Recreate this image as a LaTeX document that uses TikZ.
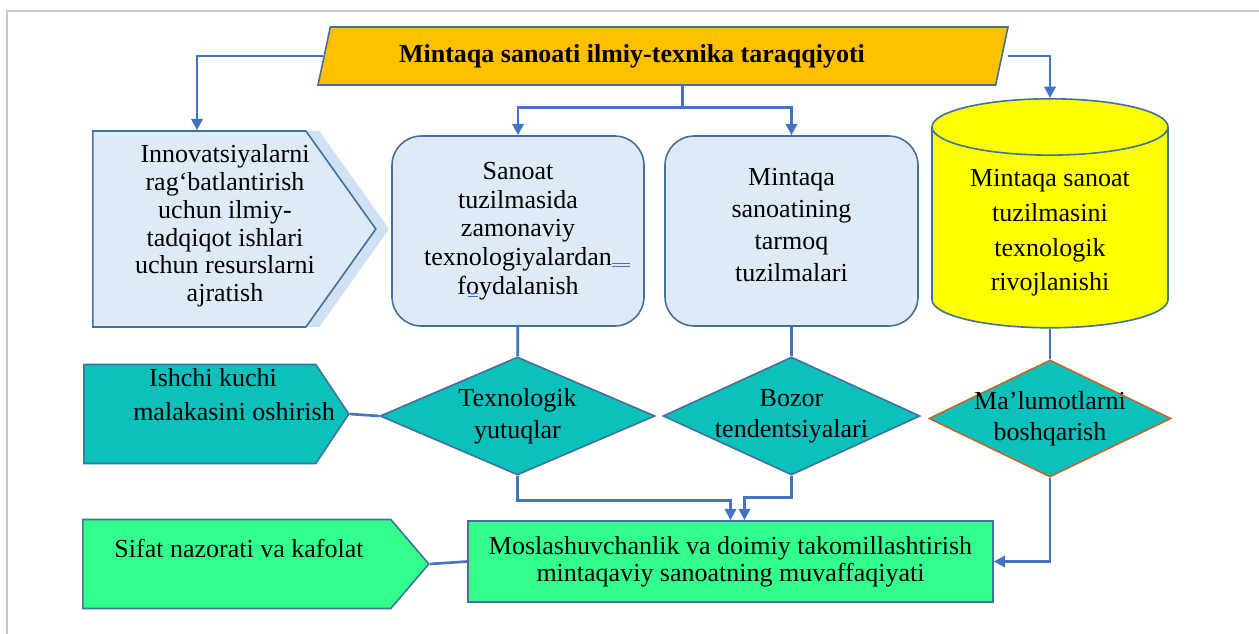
\documentclass[tikz,border=0pt]{standalone}
\usepackage{fontspec}
\setmainfont{Liberation Serif}
\usepackage{tikz}
\usetikzlibrary{arrows.meta}
\usetikzlibrary{positioning}
\usetikzlibrary{calc}
\usetikzlibrary{shapes.geometric}
\usetikzlibrary{shapes.symbols}
\usetikzlibrary{shadows}
\definecolor{linkblue}{HTML}{4472C4}
\definecolor{edgeblue}{HTML}{41719C}
\definecolor{paleblue}{HTML}{DEEBF7}
\definecolor{paleshade}{HTML}{D0E1F3}
\definecolor{titlegold}{HTML}{FFC000}
\definecolor{tealfill}{HTML}{0CC0BC}
\definecolor{springfill}{HTML}{33FF8C}
\definecolor{rustedge}{HTML}{C0672A}
\definecolor{framegray}{HTML}{C8C8C8}
\definecolor{storeyellow}{RGB}{255,255,0}
\tikzset{
	>={Triangle[length=8.5pt, width=8.5pt]},
	every node/.style={align=center, font=\fontsize{19.5}{21}\selectfont},
	%
	block/.style={draw=edgeblue, line width=1.2pt, inner sep=2pt},
	rounded block/.style={block, rounded corners=22pt, fill=paleblue},
	tag/.style={block, signal, signal to=east, signal from=nowhere, anchor=west},
	decision/.style={block, diamond, fill=tealfill, inner sep=-4pt},
	store/.style={block, cylinder, shape border rotate=90, fill=storeyellow},
	caption/.style={inner sep=0pt},
	%
	flow/.style={->, draw=linkblue, line width=2pt},
	link/.style={draw=linkblue, line width=2pt},
	frame line/.style={draw=framegray, line width=1pt},
	spell mark/.style={draw=linkblue, line width=0.6pt},
}
\begin{document}
\begin{tikzpicture}[x=0.75pt, y=-0.75pt]
	\useasboundingbox (0,0) rectangle (1259,634);
	\draw [frame line] (7,634) -- (7,11) -- (1259,11);
	%
	\node (title) [block, trapezium, trapezium left angle=78,
		trapezium right angle=102, trapezium stretches body=true,
		fill=titlegold, text height=20pt, text depth=19.5pt,
		minimum width=517.5pt, minimum height=43.5pt] at (663,56) {};
	\node (title-text) [caption, font=\fontsize{19.5}{21}\selectfont\bfseries]
		at (632,56) {Mintaqa sanoati ilmiy-texnika taraqqiyoti};
	%
	\node (innov) [tag, fill=paleblue, signal pointer angle=109,
		general shadow={shadow xshift=10pt, fill=paleshade},
		minimum width=212.25pt, minimum height=147pt] at (92,229) {};
	\node (innov-text) [caption, font=\fontsize{19.5}{20.85}\selectfont]
		at (225,226) {Innovatsiyalarni\\rag‘batlantirish\\uchun ilmiy-\\tadqiqot ishlari\\uchun resurslarni\\ajratish};
	\node (sanoat) [rounded block, minimum width=189pt, minimum height=142.5pt,
		font=\fontsize{19.5}{21.5}\selectfont] at (518,231)
		{Sanoat\\tuzilmasida\\zamonaviy\\texnologiyalardan\\foydalanish};
	\node (tarmoq) [rounded block, minimum width=189.75pt, minimum height=142.5pt,
		font=\fontsize{19.5}{24}\selectfont] at (791.5,231)
		{Mintaqa\\sanoatining\\tarmoq\\tuzilmalari\\[-15pt]};
	\node (data) [store, aspect=0.25, text width=165pt, minimum width=177pt,
		minimum height=171.75pt, anchor=north] at (1050,98) {};
	\node (data-text) [caption, font=\fontsize{19.5}{26}\selectfont]
		at (1050,233) {Mintaqa sanoat\\tuzilmasini\\texnologik\\rivojlanishi};
	%
	\node (ishchi) [tag, fill=tealfill, signal pointer angle=112.7,
		minimum width=198.75pt, minimum height=74.25pt] at (83,414) {};
	\node (ishchi-text) [caption, font=\fontsize{19.5}{25.5}\selectfont]
		at (213,395) {Ishchi kuchi\\\hspace*{31.5pt}malakasini oshirish};
	\node (techno) [decision, aspect=2.33, minimum width=206.25pt,
		minimum height=88.5pt, font=\fontsize{19.5}{24}\selectfont]
		at (517.5,416) {Texnologik\\yutuqlar};
	\node (bozor) [decision, aspect=2.18, minimum width=192.75pt,
		minimum height=88.5pt, font=\fontsize{19.5}{23}\selectfont]
		at (791.5,416) {Bozor\\tendentsiyalari};
	\node (manage) [decision, draw=rustedge, aspect=2.07, minimum width=181.5pt,
		minimum height=87.75pt, font=\fontsize{19.5}{23}\selectfont]
		at (1050,418.5) {Ma’lumotlarni\\boshqarish};
	%
	\node (sifat) [tag, fill=springfill, signal pointer angle=99,
		minimum width=259.5pt, minimum height=66.75pt] at (82,564) {};
	\node (sifat-text) [caption] at (239,548) {Sifat nazorati va kafolat};
	\node (goal) [block, fill=springfill, minimum width=393.75pt,
		minimum height=60.75pt, font=\fontsize{19.5}{20.25}\selectfont]
		at (730.5,561.5)
		{Moslashuvchanlik va doimiy takomillashtirish\\mintaqaviy sanoatning muvaffaqiyati};
	%
	\draw [flow] (title.west) -| ([xshift=78.75pt]innov.west |- innov.north);
	\draw [flow] ([xshift=14.4pt]title.south) -- ++(0,22) -| (sanoat.north);
	\draw [flow] ([xshift=14.4pt]title.south) -- ++(0,22) -| (tarmoq.north);
	\draw [flow] ([xshift=4pt]title.east) -| (data.north);
	\draw [link] (sanoat) -- (techno);
	\draw [link] (tarmoq) -- (bozor);
	\draw [link] (data) -- (manage);
	\draw [link] (ishchi.east) -- (techno.west);
	\draw [link] (sifat.east) -- (goal.west);
	\draw [flow] (techno.south) -- ++(0,25) -| (goal.north);
	\draw [flow] (bozor.south) -- ++(0,22) -| ([xshift=10.5pt]goal.north);
	\draw [flow] (manage.south) |- (goal.east);
	%
	\draw [spell mark] (612,263) -- (630,263) (612,266.5) -- (630,266.5);
	\draw [spell mark] (468,293) -- (478,293) (468,296.5) -- (478,296.5);
\end{tikzpicture}
\end{document}
